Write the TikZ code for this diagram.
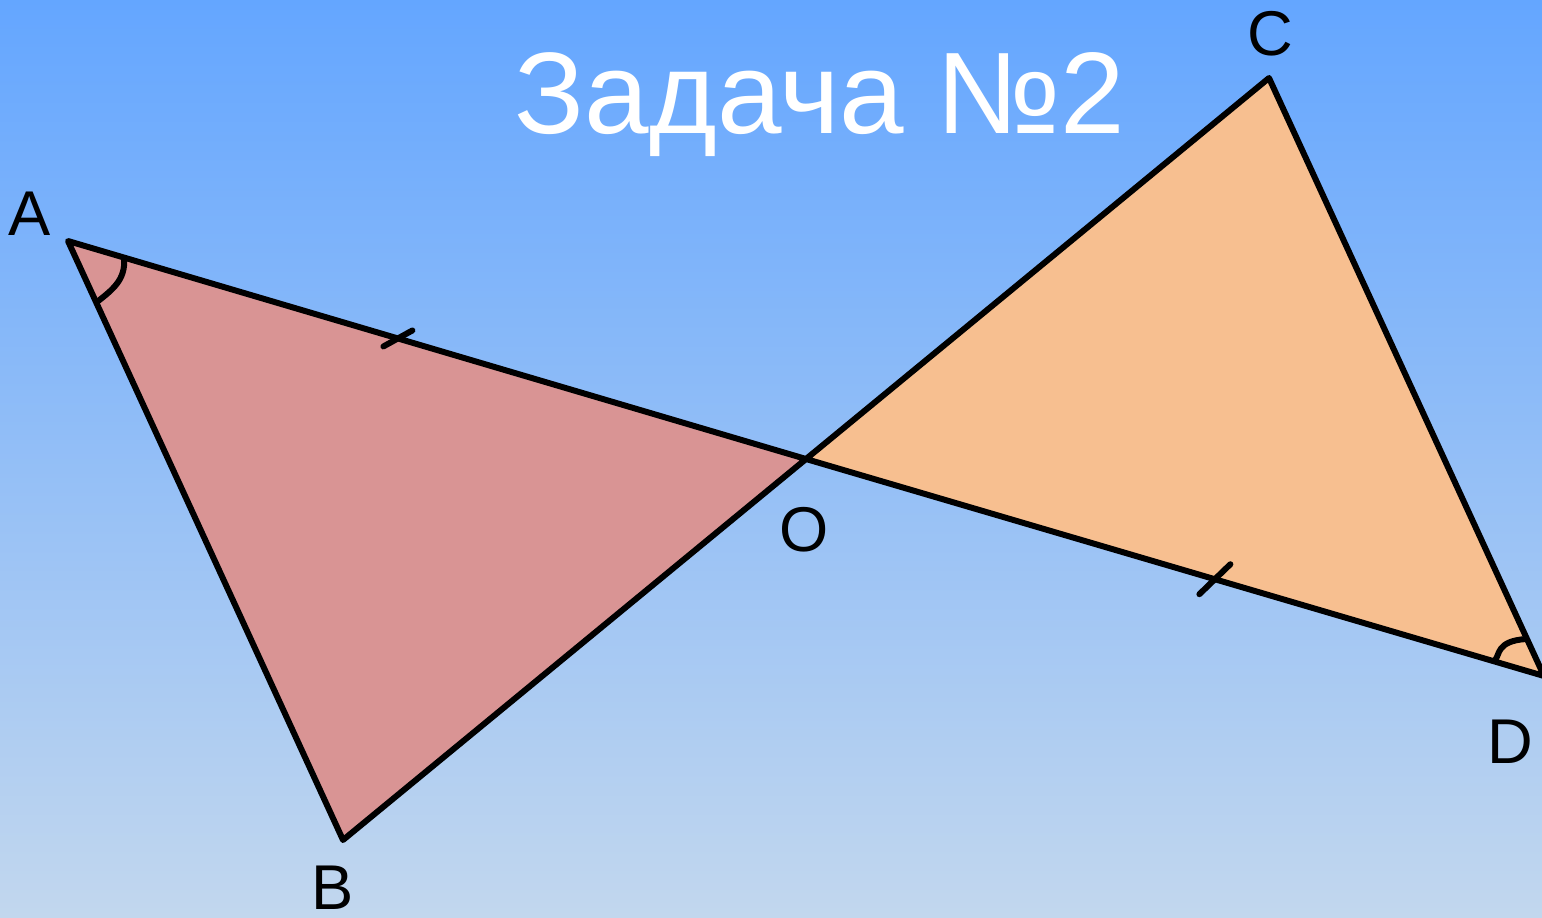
\documentclass[tikz,border=0pt]{standalone}
\usepackage{fontspec}
\setmainfont{Liberation Sans}
\usetikzlibrary{calc}
\definecolor{skytop}{HTML}{64A6FF}
\definecolor{skymid}{HTML}{80BDFF}
\definecolor{skybot}{HTML}{C2D7EE}
\definecolor{pinkfill}{HTML}{D99494}
\definecolor{peachfill}{HTML}{F7BF90}
\tikzset{
  side/.style={line width=1.7pt, line join=round, line cap=round},
  vlabel/.style={anchor=base, inner sep=0pt, font=\fontsize{18}{22}\selectfont},
}

\begin{document}
\begin{tikzpicture}
\useasboundingbox (0,0) rectangle (15.42,9.17);
\clip (0,0) rectangle (15.42,9.17);
\shade[top color=skytop, middle color=skymid, bottom color=skybot] (0,0) rectangle (15.42,9.17);

\coordinate (A) at (0.68,6.76);
\coordinate (B) at (3.43,0.77);
\coordinate (C) at (12.69,8.39);
\coordinate (D) at (15.44,2.41);
\coordinate (O) at (8.06,4.58);

% triangles
\fill[pinkfill] (A) -- (B) -- (O) -- cycle;
\fill[peachfill] (C) -- (D) -- (O) -- cycle;
\draw[side] (O) -- (A) -- (B) -- (O);
\draw[side] (O) -- (C) -- (D) -- (O);

% equal sides
\draw[side] ($(A)!0.447!(O)$) ++(-0.145,-0.08) -- ++(0.29,0.16);
\draw[side] ($(O)!0.554!(D)$) ++(-0.155,-0.15) -- ++(0.31,0.30);

% equal angles
\draw[side] (1.24,6.59) .. controls (1.26,6.37) and (1.12,6.27) .. (0.97,6.15);
\draw[side] (14.95,2.57) .. controls (15.00,2.62) and (14.96,2.76) .. (15.26,2.78);

\node[vlabel] (lA) at (0.30,6.82) {A};
\node[vlabel] (lB) at (3.33,0.08) {B};
\node[vlabel] (lC) at (12.70,8.62) {C};
\node[vlabel] (lD) at (15.10,1.54) {D};
\node[vlabel] (lO) at (8.04,3.66) {O};

\node[anchor=base, inner sep=0pt, text=white, font=\fontsize{33}{40}\selectfont] (title) at (8.20,7.84) {Задача №2};
\end{tikzpicture}
\end{document}
